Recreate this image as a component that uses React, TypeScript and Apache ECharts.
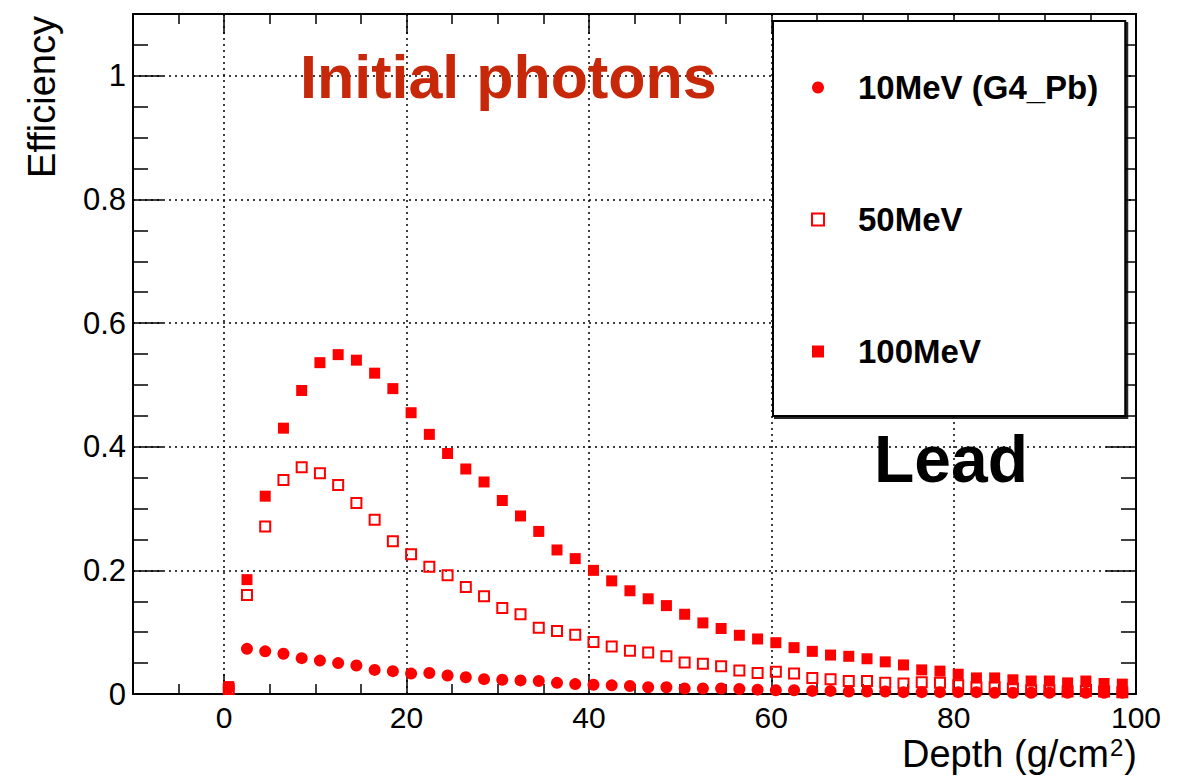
import React, { useEffect, useRef } from "react";
import * as echarts from "echarts";

const depth = [
  0.5, 2.5, 4.5, 6.5, 8.5, 10.5, 12.5, 14.5, 16.5, 18.5,
  20.5, 22.5, 24.5, 26.5, 28.5, 30.5, 32.5, 34.5, 36.5, 38.5,
  40.5, 42.5, 44.5, 46.5, 48.5, 50.5, 52.5, 54.5, 56.5, 58.5,
  60.5, 62.5, 64.5, 66.5, 68.5, 70.5, 72.5, 74.5, 76.5, 78.5,
  80.5, 82.5, 84.5, 86.5, 88.5, 90.5, 92.5, 94.5, 96.5, 98.5,
];

const eff10MeV = [
  0.010, 0.073, 0.069, 0.065, 0.058, 0.054, 0.050, 0.046, 0.039, 0.037,
  0.033, 0.034, 0.030, 0.027, 0.024, 0.023, 0.022, 0.021, 0.018, 0.016,
  0.015, 0.014, 0.013, 0.011, 0.011, 0.009, 0.009, 0.009, 0.008, 0.007,
  0.006, 0.006, 0.005, 0.005, 0.004, 0.004, 0.004, 0.003, 0.003, 0.003,
  0.003, 0.003, 0.002, 0.002, 0.002, 0.002, 0.002, 0.002, 0.002, 0.002,
];

const eff50MeV = [
  0.008, 0.160, 0.271, 0.346, 0.367, 0.357, 0.338, 0.309, 0.282, 0.247,
  0.226, 0.206, 0.192, 0.173, 0.158, 0.139, 0.129, 0.107, 0.102, 0.096,
  0.084, 0.077, 0.070, 0.067, 0.061, 0.051, 0.049, 0.045, 0.038, 0.034,
  0.036, 0.033, 0.026, 0.024, 0.021, 0.021, 0.018, 0.017, 0.019, 0.018,
  0.014, 0.011, 0.011, 0.009, 0.006, 0.006, 0.004, 0.005, 0.004, 0.003,
];

const eff100MeV = [
  0.012, 0.185, 0.320, 0.430, 0.491, 0.536, 0.549, 0.540, 0.519, 0.494,
  0.455, 0.420, 0.389, 0.364, 0.343, 0.313, 0.288, 0.263, 0.233, 0.219,
  0.200, 0.183, 0.167, 0.154, 0.143, 0.129, 0.115, 0.106, 0.095, 0.089,
  0.083, 0.075, 0.069, 0.063, 0.061, 0.057, 0.052, 0.047, 0.039, 0.037,
  0.032, 0.026, 0.026, 0.023, 0.021, 0.021, 0.018, 0.021, 0.017, 0.016,
];

const seriesNames = ["10MeV (G4_Pb)", "50MeV", "100MeV"];
const xTitle = "Depth (g/cm{sup|2})";
const yTitle = "Efficiency";
const plotTitle = "Initial photons";
const materialLabel = "Lead";

const FONT = "'Liberation Sans', Arial, Helvetica, sans-serif";
const RED = "#ff0000";

function pairs(ys: number[]) {
  return depth.map((d, i) => [d, ys[i]]);
}

export default function App() {
  const ref = useRef<HTMLDivElement>(null);

  useEffect(() => {
    if (!ref.current) return;
    const chart = echarts.init(ref.current, undefined, { renderer: "svg" });

    const frameLine = { show: true, onZero: false, lineStyle: { color: "#000", width: 2 } };
    const grid = { show: true, lineStyle: { color: "#000", width: 1.5, type: [2, 4] } };

    const option = {
      animation: false,
      backgroundColor: "#fff",
      grid: { left: 133, top: 14, width: 1003, height: 680 },
      xAxis: [
        {
          type: "value",
          min: -10,
          max: 100,
          splitNumber: 5,
          position: "bottom",
          axisLine: frameLine,
          axisTick: { show: true, inside: true, length: 20, lineStyle: { color: "#000", width: 1.5 } },
          minorTick: { show: true, splitNumber: 4, length: 10, lineStyle: { color: "#000", width: 1.5 } },
          axisLabel: {
            show: true,
            margin: 8,
            fontSize: 30,
            fontFamily: FONT,
            color: "#000",
            formatter: (v: number) => (v < 0 ? "" : String(v)),
          },
          splitLine: grid,
        },
        {
          type: "value",
          min: -10,
          max: 100,
          splitNumber: 5,
          position: "top",
          axisLine: frameLine,
          axisTick: { show: true, inside: true, length: 20, lineStyle: { color: "#000", width: 1.5 } },
          minorTick: { show: true, splitNumber: 4, length: 10, lineStyle: { color: "#000", width: 1.5 } },
          axisLabel: { show: false },
          splitLine: { show: false },
        },
      ],
      yAxis: [
        {
          type: "value",
          min: 0,
          max: 1.1,
          interval: 0.2,
          position: "left",
          axisLine: frameLine,
          axisTick: { show: true, inside: true, length: 30, lineStyle: { color: "#000", width: 1.5 } },
          minorTick: { show: true, splitNumber: 4, length: 15, lineStyle: { color: "#000", width: 1.5 } },
          axisLabel: {
            show: true,
            margin: 7,
            fontSize: 31,
            fontFamily: FONT,
            color: "#000",
            formatter: (v: number) => (v > 1.05 ? "" : String(Math.round(v * 10) / 10)),
          },
          splitLine: grid,
        },
        {
          type: "value",
          min: 0,
          max: 1.1,
          interval: 0.2,
          position: "right",
          axisLine: frameLine,
          axisTick: { show: true, inside: true, length: 30, lineStyle: { color: "#000", width: 1.5 } },
          minorTick: { show: true, splitNumber: 4, length: 15, lineStyle: { color: "#000", width: 1.5 } },
          axisLabel: { show: false },
          splitLine: { show: false },
        },
      ],
      legend: {
        data: seriesNames,
        orient: "vertical",
        left: 773,
        top: 21,
        padding: [50, 27, 48, 38],
        itemGap: 99,
        itemWidth: 12,
        itemHeight: 12,
        backgroundColor: "#fff",
        borderColor: "#000",
        borderWidth: 2,
        borderRadius: 0,
        shadowColor: "rgba(0,0,0,0.85)",
        shadowBlur: 0,
        shadowOffsetX: 2,
        shadowOffsetY: 2,
        textStyle: {
          fontSize: 33,
          fontWeight: "bold",
          fontFamily: FONT,
          color: "#000",
          padding: [0, 0, 0, 29],
        },
      },
      graphic: [
        {
          type: "text",
          x: 300,
          y: 77,
          z: 10,
          style: {
            text: plotTitle,
            fontSize: 61,
            fontWeight: "bold",
            fontFamily: FONT,
            fill: "#c8280a",
            align: "left",
            verticalAlign: "middle",
          },
        },
        {
          type: "text",
          x: 874,
          y: 459,
          z: 10,
          style: {
            text: materialLabel,
            fontSize: 66,
            fontWeight: "bold",
            fontFamily: FONT,
            fill: "#000",
            align: "left",
            verticalAlign: "middle",
          },
        },
        {
          type: "text",
          x: 1137,
          y: 754,
          z: 10,
          style: {
            text: xTitle,
            fontSize: 38,
            fontFamily: FONT,
            fill: "#000",
            align: "right",
            verticalAlign: "middle",
            rich: {
              sup: {
                fontSize: 24,
                fontFamily: FONT,
                fill: "#000",
                verticalAlign: "top",
                padding: [0, 1, 0, 1],
              },
            },
          },
        },
        {
          type: "text",
          x: 42,
          y: 16,
          rotation: Math.PI / 2,
          z: 10,
          style: {
            text: yTitle,
            fontSize: 38,
            fontFamily: FONT,
            fill: "#000",
            align: "right",
            verticalAlign: "middle",
          },
        },
      ],
      series: [
        {
          name: seriesNames[0],
          type: "scatter",
          xAxisIndex: 0,
          yAxisIndex: 0,
          symbol: "circle",
          symbolSize: 12,
          itemStyle: { color: RED, opacity: 1 },
          data: pairs(eff10MeV),
        },
        {
          name: seriesNames[1],
          type: "scatter",
          xAxisIndex: 0,
          yAxisIndex: 0,
          symbol: "rect",
          symbolSize: 10,
          itemStyle: { color: "rgba(255,255,255,0)", borderColor: RED, borderWidth: 2, opacity: 1 },
          data: pairs(eff50MeV),
        },
        {
          name: seriesNames[2],
          type: "scatter",
          xAxisIndex: 0,
          yAxisIndex: 0,
          symbol: "rect",
          symbolSize: 11,
          itemStyle: { color: RED, opacity: 1 },
          data: pairs(eff100MeV),
        },
      ],
    };

    chart.setOption(option as any);
    return () => chart.dispose();
  }, []);

  return (
    <div
      ref={ref}
      style={{ position: "fixed", left: 0, top: 0, width: 1192, height: 780, background: "#fff" }}
    />
  );
}
